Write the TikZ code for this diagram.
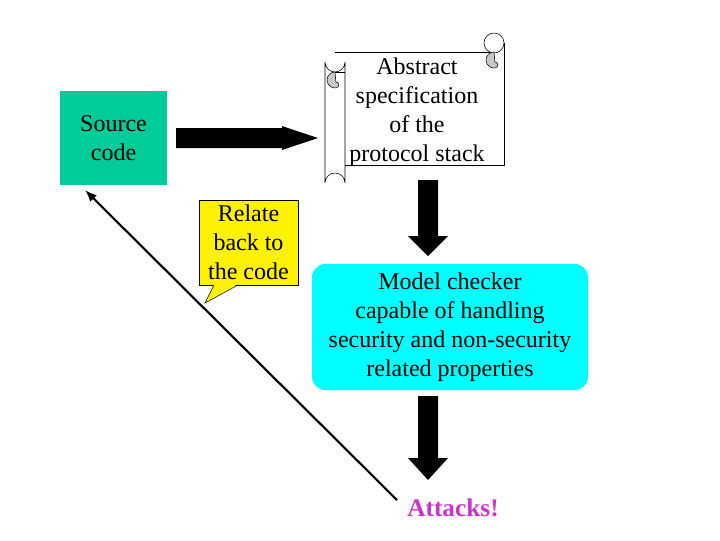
\documentclass[tikz,border=0pt]{standalone}
\usepackage{fontspec}
\setmainfont{Liberation Serif}
\usetikzlibrary{arrows.meta}
\begin{document}
\begin{tikzpicture}[x=0.75pt,y=-0.75pt,
  txt/.style={align=center,font=\fontsize{18}{21.75}\selectfont}]
\useasboundingbox (0,0) rectangle (720,540);
\colorlet{curl}{black!22}
% source code
\node[fill={rgb,255:red,0;green,204;blue,153},minimum width=80.25pt,minimum height=70.5pt,txt] (src) at (113.5,138) {Source\\code};
% scroll sheet
\fill[white] (335,52) rectangle (504,165);
\draw (335,52) -- (494,52);
\draw (504,43) -- (504,165) -- (345,165);
% right curl
\draw[fill=white] (494,43) circle[radius=10];
\draw[fill=curl] (494,52) arc[start angle=270,end angle=80,radius=8] arc[start angle=80,end angle=-90,radius=3] -- cycle;
% left tube
\draw[fill=white] (325,62) -- (325,183) arc[start angle=180,end angle=360,radius=10] -- (345,62) arc[start angle=0,end angle=180,radius=10];
\draw[fill=curl] (335,72) arc[start angle=270,end angle=80,radius=8] arc[start angle=80,end angle=-90,radius=3] -- cycle;
\draw (335,72) -- (345,72);
\node[txt] (spec) at (417,112) {Abstract\\specification\\of the\\protocol stack};
% model checker
\node[fill={rgb,255:red,0;green,255;blue,255},rounded corners=10pt,minimum width=207pt,minimum height=94.5pt,txt] (mc) at (450,327) {Model checker\\capable of handling\\security and non-security\\related properties};
% attacks
\node[font=\fontsize{19}{22}\selectfont\bfseries,text={rgb,255:red,204;green,51;blue,204}] (att) at (453,508) {Attacks!};
% callout
\node[fill=yellow,draw,minimum width=74pt,minimum height=64pt,txt,inner sep=0pt] (call) at (248.5,242.5) {Relate\\back to\\the code};
\fill[yellow] (214,284) -- (205,303) -- (238,284) -- cycle;
\draw (214,285) -- (205,303) -- (238,285);
% fat arrows
\fill (176,128) -- (282,128) -- (282,126) -- (318,138) -- (282,150) -- (282,148) -- (176,148) -- cycle;
\fill (418,180) -- (438,180) -- (438,236) -- (448,236) -- (428,256) -- (408,236) -- (418,236) -- cycle;
\fill (418,396) -- (438,396) -- (438,458) -- (448,458) -- (428,480) -- (408,458) -- (418,458) -- cycle;
% thin arrow
\coordinate (tail) at (397,500);
\draw[line width=1.6pt,-{Latex[length=9pt,width=7pt]}] (tail) -- (85,190);
\end{tikzpicture}
\end{document}
